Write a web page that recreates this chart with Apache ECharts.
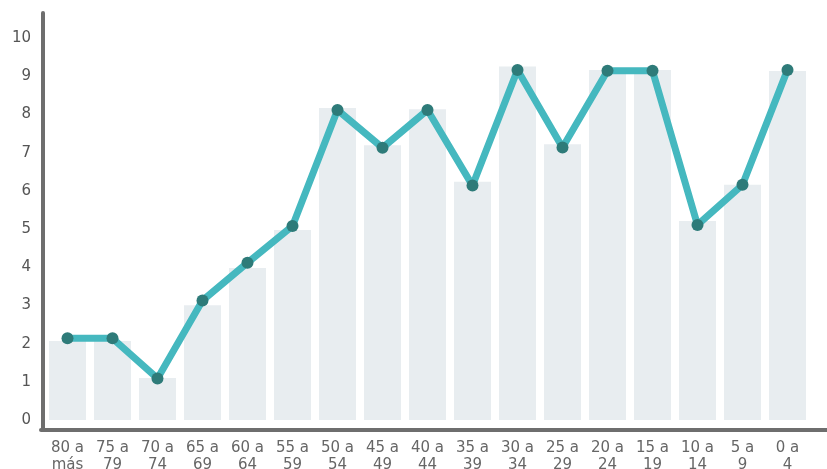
<!DOCTYPE html>
<html>
<head>
<meta charset="utf-8">
<script src="https://cdn.jsdelivr.net/npm/echarts@6/dist/echarts.min.js"></script>
<style>
  html, body { margin: 0; padding: 0; background: #ffffff; }
  #chart { width: 827px; height: 469px; }
</style>
</head>
<body>
<div id="chart"></div>
<script>
const categories = ['80 a\nmás', '75 a\n79', '70 a\n74', '65 a\n69', '60 a\n64', '55 a\n59', '50 a\n54', '45 a\n49', '40 a\n44', '35 a\n39', '30 a\n34', '25 a\n29', '20 a\n24', '15 a\n19', '10 a\n14', '5 a\n9', '0 a\n4'];
const barValues = [2.07, 2.07, 1.10, 3.01, 3.98, 4.98, 8.17, 7.20, 8.14, 6.24, 9.26, 7.22, 9.17, 9.17, 5.21, 6.16, 9.14];
const lineValues = [2.14, 2.14, 1.09, 3.13, 4.12, 5.08, 8.12, 7.13, 8.12, 6.14, 9.17, 7.14, 9.15, 9.15, 5.11, 6.16, 9.17];
const yTickValues = [0, 1, 2, 3, 4, 5, 6, 7, 8, 9, 10];

const chart = echarts.init(document.getElementById('chart'), null, { renderer: 'canvas' });
const font = 'DejaVu Sans';
chart.setOption({
  animation: false,
  backgroundColor: '#ffffff',
  grid: [
    { left: 45, right: 17, top: 13, bottom: 39, containLabel: false, outerBoundsMode: 'none' },
    { left: 41, right: 0, top: 13, bottom: 39, containLabel: false, outerBoundsMode: 'none' }
  ],
  xAxis: [
    {
      type: 'category',
      gridIndex: 0,
      data: categories,
      boundaryGap: true,
      axisLine: { show: false },
      axisTick: { show: false },
      axisLabel: {
        interval: 0,
        margin: 10,
        color: '#666666',
        fontFamily: font,
        fontSize: 15,
        lineHeight: 17
      }
    },
    {
      type: 'value',
      gridIndex: 1,
      min: 0, max: 1,
      axisLine: { show: true, onZero: false, lineStyle: { color: '#6e6e6e', width: 4 } },
      axisTick: { show: false },
      axisLabel: { show: false },
      splitLine: { show: false }
    }
  ],
  yAxis: [
    {
      type: 'value',
      gridIndex: 0,
      min: -0.26,
      max: 10.66,
      offset: 2,
      axisLine: { show: true, lineStyle: { color: '#6e6e6e', width: 4 } },
      axisTick: { show: false },
      splitLine: { show: false },
      axisLabel: {
        customValues: yTickValues,
        margin: 12,
        color: '#555555',
        fontFamily: font,
        fontSize: 15
      }
    },
    {
      type: 'value',
      gridIndex: 1,
      min: 0, max: 1,
      show: false,
      splitLine: { show: false }
    }
  ],
  series: [
    {
      type: 'bar',
      xAxisIndex: 0,
      yAxisIndex: 0,
      data: barValues,
      barWidth: 37,
      itemStyle: { color: '#e8edf0' },
      z: 1
    },
    {
      type: 'line',
      xAxisIndex: 0,
      yAxisIndex: 0,
      data: lineValues,
      symbol: 'circle',
      symbolSize: 12,
      lineStyle: { color: '#45b8bf', width: 7 },
      itemStyle: { color: '#2e7b79' },
      z: 3
    }
  ]
});
</script>
</body>
</html>
